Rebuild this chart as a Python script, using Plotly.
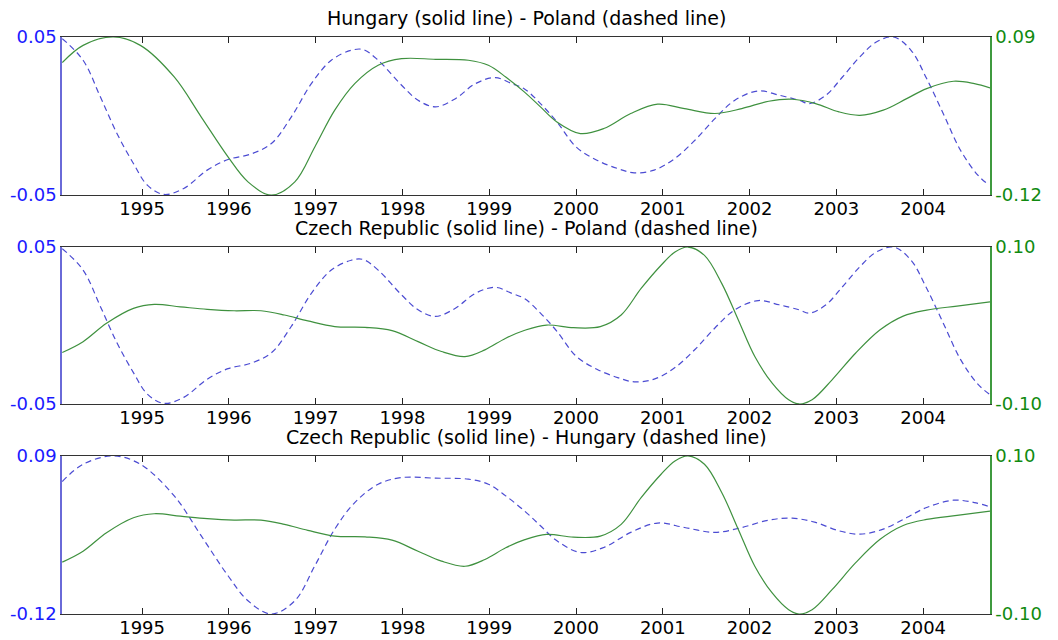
import plotly.graph_objects as go

# Poland cycle (dashed, left axis in panels 1 and 2)
poland_x = [1994.08, 1994.32, 1994.52, 1994.71, 1994.90, 1995.06, 1995.25, 1995.48,
            1995.75, 1995.99, 1996.25, 1996.49, 1996.72, 1996.95, 1997.18, 1997.41,
            1997.55, 1997.72, 1997.99, 1998.18, 1998.38, 1998.61, 1998.84, 1999.07,
            1999.26, 1999.41, 1999.59, 1999.78, 2000.00, 2000.24, 2000.48, 2000.67,
            2000.90, 2001.14, 2001.37, 2001.60, 2001.83, 2002.10, 2002.34, 2002.57,
            2002.69, 2002.88, 2003.07, 2003.27, 2003.46, 2003.66, 2003.86, 2004.04,
            2004.24, 2004.43, 2004.63, 2004.76]
poland_y = [0.049, 0.0353, 0.012, -0.011, -0.030, -0.0437, -0.0496, -0.0458,
            -0.0342, -0.0275, -0.0241, -0.0174, -0.0005, 0.0205, 0.0353, 0.0416,
            0.042, 0.0353, 0.0195, 0.010, 0.0058, 0.011, 0.0205, 0.0243,
            0.0205, 0.017, 0.0079, -0.0037, -0.0195, -0.0279, -0.0332, -0.0359,
            -0.0342, -0.0268, -0.0153, -0.0016, 0.010, 0.0159, 0.0132, 0.010,
            0.0079, 0.0132, 0.0247, 0.0374, 0.0468, 0.050, 0.0416, 0.0237,
            0.0005, -0.0216, -0.0374, -0.0437]

# Hungary cycle
hungary_x = [1994.08, 1994.32, 1994.67, 1994.98, 1995.37, 1995.68, 1995.99, 1996.22,
             1996.49, 1996.76, 1996.99, 1997.22, 1997.45, 1997.72, 1997.99, 1998.38,
             1998.76, 1998.99, 1999.19, 1999.41, 1999.59, 1999.78, 2000.05, 2000.32,
             2000.63, 2000.94, 2001.25, 2001.60, 2001.91, 2002.22, 2002.49, 2002.76,
             2003.03, 2003.27, 2003.54, 2003.81, 2004.04, 2004.35, 2004.59, 2004.77]
hungary_y = [0.056, 0.0789, 0.090, 0.0789, 0.0369, -0.016, -0.0692, -0.1024,
             -0.120, -0.1024, -0.056, -0.0072, 0.028, 0.0524, 0.0612, 0.0604,
             0.0591, 0.0524, 0.0369, 0.0165, -0.0028, -0.0228, -0.0383, -0.0316,
             -0.0116, 0.0008, -0.0051, -0.0116, -0.0051, 0.0047, 0.0073, 0.0016,
             -0.0095, -0.0140, -0.0072, 0.0081, 0.0215, 0.0312, 0.028, 0.0224]

# Czech Republic cycle
czech_x = [1994.08, 1994.32, 1994.59, 1994.90, 1995.14, 1995.44, 1995.75, 1996.06,
           1996.37, 1996.64, 1996.91, 1997.22, 1997.57, 1997.88, 1998.18, 1998.45,
           1998.72, 1998.95, 1999.19, 1999.41, 1999.66, 1999.97, 2000.28, 2000.52,
           2000.75, 2000.98, 2001.14, 2001.29, 2001.48, 2001.68, 2001.87, 2002.06,
           2002.26, 2002.45, 2002.57, 2002.72, 2002.95, 2003.22, 2003.50, 2003.77,
           2004.04, 2004.39, 2004.77]
czech_y = [-0.0344, -0.0206, 0.0028, 0.0218, 0.0268, 0.0238, 0.0206, 0.0188,
           0.0188, 0.0134, 0.0058, -0.0014, -0.0024, -0.0066, -0.0206, -0.0332,
           -0.0396, -0.031, -0.0162, -0.006, 0.0006, -0.0028, -0.0014, 0.0134,
           0.0472, 0.0768, 0.0936, 0.100, 0.0894, 0.0534, 0.007, -0.0396,
           -0.0734, -0.0946, -0.100, -0.0946, -0.0692, -0.0354, -0.0058, 0.012,
           0.0196, 0.0248, 0.0302]

years = list(range(1995, 2005))

titles = ["Hungary (solid line) - Poland (dashed line)",
          "Czech Republic (solid line) - Poland (dashed line)",
          "Czech Republic (solid line) - Hungary (dashed line)"]

# (dashed series, solid series, left range, right range)
panels = [
    ((poland_x, poland_y), (hungary_x, hungary_y), (-0.05, 0.05), (-0.12, 0.09)),
    ((poland_x, poland_y), (czech_x, czech_y), (-0.05, 0.05), (-0.10, 0.10)),
    ((hungary_x, hungary_y), (czech_x, czech_y), (-0.12, 0.09), (-0.10, 0.10)),
]

BLUE = "#1a1aff"
GREEN = "#108a10"
FONT = "DejaVu Sans, Arial, sans-serif"
FSIZE = 18
domains = [(0.726, 1.0), (0.364, 0.636), (0.0, 0.274)]

fig = go.Figure()
layout = {}
for i, (dashed, solid, lrange, rrange) in enumerate(panels):
    n = i + 1
    xname = "x" if n == 1 else f"x{n}"
    yl = 2 * i + 1
    yr = 2 * i + 2
    ylname = "y" if yl == 1 else f"y{yl}"
    yrname = f"y{yr}"

    fig.add_trace(go.Scatter(x=dashed[0], y=dashed[1], mode="lines", line_shape="spline",
                             line=dict(color="#4b4bd2", width=1.2, dash="6px,4px"),
                             xaxis=xname, yaxis=ylname, showlegend=False))
    fig.add_trace(go.Scatter(x=solid[0], y=solid[1], mode="lines", line_shape="spline",
                             line=dict(color="#3f913f", width=1.2),
                             xaxis=xname, yaxis=yrname, showlegend=False))

    layout["xaxis" if n == 1 else f"xaxis{n}"] = dict(
        domain=[0, 1], anchor=ylname, range=[1994.077, 2004.77], automargin=False,
        tickvals=years, ticktext=[str(y) for y in years],
        ticks="inside", ticklen=6, tickcolor="#222", showline=True,
        linecolor="#333", linewidth=1, mirror="ticks", showgrid=False, zeroline=False,
        ticklabelstandoff=-3,
        tickfont=dict(color="black", size=FSIZE, family=FONT))
    layout["yaxis" if yl == 1 else f"yaxis{yl}"] = dict(
        domain=list(domains[i]), anchor=xname, range=list(lrange), automargin=False,
        tickvals=list(lrange), ticktext=[f"{v:.2f}" for v in lrange],
        ticks="", showline=True, linecolor="#6a6ad8", linewidth=1.5,
        showgrid=False, zeroline=False,
        tickfont=dict(color=BLUE, size=FSIZE, family=FONT))
    layout[f"yaxis{yr}"] = dict(
        domain=list(domains[i]), anchor=xname, overlaying=ylname, side="right",
        range=list(rrange), automargin=False,
        tickvals=list(rrange), ticktext=[f"{v:.2f}" for v in rrange],
        ticks="", showline=True, linecolor="#3f9a3f", linewidth=1.5,
        showgrid=False, zeroline=False,
        tickfont=dict(color=GREEN, size=FSIZE, family=FONT))

annotations = []
for i, t in enumerate(titles):
    annotations.append(dict(text=t, xref="paper", yref="paper", x=0.5, y=domains[i][1],
                            yshift=19, showarrow=False, xanchor="center", yanchor="middle",
                            font=dict(color="black", size=19, family=FONT)))

fig.update_layout(**layout)
# page body has an 8px margin, so the figure starts at (8, 8) in the window
fig.update_layout(
    width=1042, height=632,
    margin=dict(l=54, r=60, t=29, b=26),
    paper_bgcolor="white", plot_bgcolor="white",
    annotations=annotations,
    font=dict(family=FONT),
)

fig.write_html("out.html")
